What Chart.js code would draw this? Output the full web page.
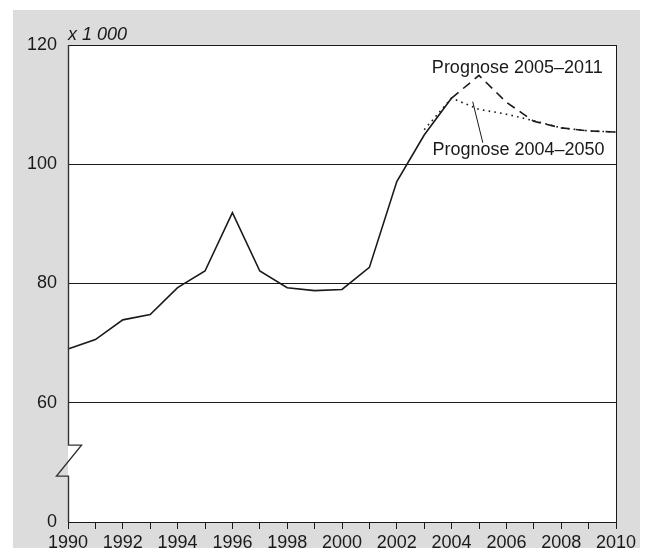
<!DOCTYPE html>
<html><head><meta charset="utf-8">
<script src="https://cdn.jsdelivr.net/npm/chart.js@4/dist/chart.umd.min.js"></script>
<style>html,body{margin:0;padding:0;background:#fff;}</style>
</head><body>
<canvas id="c" width="653" height="552"></canvas>
<script>
const years = ['1990','1991','1992','1993','1994','1995','1996','1997','1998','1999','2000',
               '2001','2002','2003','2004','2005','2006','2007','2008','2009','2010'];
// x 1 000
const actual = [69.0,70.6,73.9,74.8,79.3,82.1,91.9,82.1,79.3,78.8,79.0,82.7,97.1,104.9,111.1,
                null,null,null,null,null,null];
const prognose2005_2011 = [null,null,null,null,null,null,null,null,null,null,null,null,null,null,
                111.1,114.9,110.4,107.2,106.1,105.6,105.4];
const prognose2004_2050 = [null,null,null,null,null,null,null,null,null,null,null,null,null,105.8,
                111.1,109.2,108.4,107.3,106.1,105.6,105.4];
// broken axis: the bottom position (display 40) stands for 0
const yTickValues = [40,60,80,100,120];
const yTickLabels = ['0','60','80','100','120'];
const labelUpper = 'Prognose 2005\u20132011';
const labelLower = 'Prognose 2004\u20132050';
const unitLabel = 'x 1 000';

const INK = '#1a1a1a';
const FONT = 'Liberation Sans, Arial, sans-serif';

const deco = {
  id: 'deco',
  beforeDraw(chart) {
    const {ctx, chartArea: a} = chart;
    ctx.save();
    ctx.fillStyle = '#dcdcdd';
    ctx.fillRect(a.left - 55, a.top - 35, (a.right + 24) - (a.left - 55), (a.bottom + 26) - (a.top - 35));
    ctx.fillStyle = '#ffffff';
    ctx.fillRect(a.left, a.top, a.right - a.left, a.bottom - a.top);
    ctx.restore();
  },
  afterDraw(chart) {
    const {ctx, chartArea: a, scales: {x, y}} = chart;
    ctx.save();
    // right border
    ctx.strokeStyle = INK; ctx.lineWidth = 1;
    ctx.beginPath(); ctx.moveTo(Math.round(a.right) + 0.5, a.top); ctx.lineTo(Math.round(a.right) + 0.5, a.bottom); ctx.stroke();
    // left axis with break symbol
    const yb1 = y.getPixelForValue(52.9), yb2 = y.getPixelForValue(47.7);
    const L = Math.round(a.left) + 0.5;
    ctx.lineWidth = 1.4; ctx.strokeStyle = '#333';
    ctx.beginPath();
    ctx.moveTo(L, a.top); ctx.lineTo(L, yb1); ctx.lineTo(L + 13, yb1);
    ctx.lineTo(L - 12, yb2); ctx.lineTo(L, yb2); ctx.lineTo(L, a.bottom);
    ctx.stroke();
    // unit label
    ctx.fillStyle = INK;
    ctx.font = 'italic 18px ' + FONT;
    ctx.textAlign = 'left'; ctx.textBaseline = 'alphabetic';
    ctx.fillText(unitLabel, a.left, a.top - 5);
    // annotations
    ctx.font = '18px ' + FONT;
    ctx.fillText(labelUpper, x.getPixelForValue(13.28), y.getPixelForValue(115.3));
    ctx.fillText(labelLower, x.getPixelForValue(13.3), y.getPixelForValue(101.6));
    ctx.strokeStyle = INK; ctx.lineWidth = 1;
    ctx.beginPath();
    ctx.moveTo(x.getPixelForValue(14.77), y.getPixelForValue(110.5));
    ctx.lineTo(x.getPixelForValue(15.14), y.getPixelForValue(103.6));
    ctx.stroke();
    ctx.restore();
  }
};

new Chart(document.getElementById('c'), {
  type: 'line',
  data: {
    labels: years,
    datasets: [
      {data: actual, borderColor: INK, borderWidth: 1.6, spanGaps: false},
      {data: prognose2005_2011, borderColor: INK, borderWidth: 1.6, borderDash: [9, 6]},
      {data: prognose2004_2050, borderColor: INK, borderWidth: 1.6, borderDash: [1.6, 4.2]}
    ]
  },
  options: {
    responsive: false,
    animation: false,
    devicePixelRatio: 1,
    layout: {padding: {top: 45, right: 37, left: 0, bottom: 0}},
    plugins: {legend: {display: false}, tooltip: {enabled: false}},
    elements: {point: {radius: 0}, line: {tension: 0, borderJoinStyle: 'miter'}},
    scales: {
      x: {
        type: 'category', offset: false,
        grid: {drawOnChartArea: false, drawTicks: true, tickLength: 7, color: INK, lineWidth: 1},
        border: {display: true, color: INK, width: 1},
        ticks: {autoSkip: false, maxRotation: 0, minRotation: 0, padding: 3, color: INK,
                font: {family: FONT, size: 18},
                callback: (v, i) => (i % 2 === 0 ? years[i] : '')},
        afterFit(s) { s.height = 30; }
      },
      y: {
        min: 40, max: 120,
        afterBuildTicks(s) { s.ticks = yTickValues.map(v => ({value: v})); },
        grid: {drawTicks: false, color: INK, lineWidth: 1},
        border: {display: false},
        ticks: {padding: 11, color: INK, font: {family: FONT, size: 18},
                callback: (v) => yTickLabels[yTickValues.indexOf(v)]},
        afterFit(s) { s.width = 68; }
      }
    }
  },
  plugins: [deco]
});
</script>
</body></html>
